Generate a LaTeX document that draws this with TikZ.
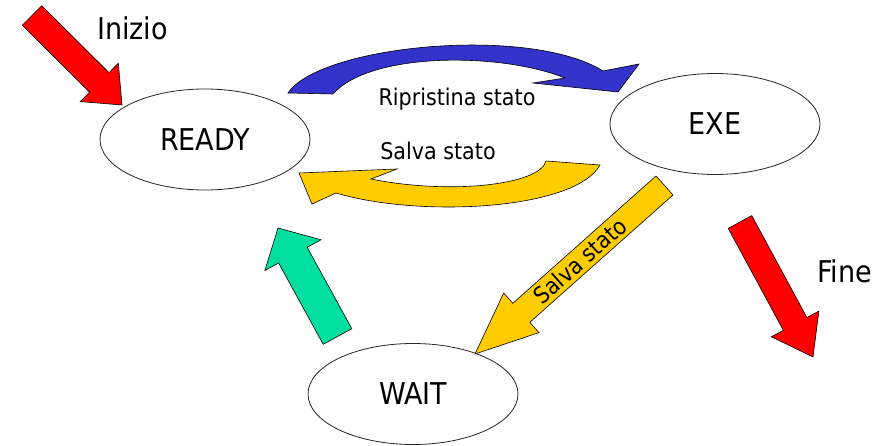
\documentclass[tikz,border=0pt]{standalone}
\usepackage{fontspec}
\setmainfont{DejaVu Sans Condensed}
\usetikzlibrary{shapes.geometric,calc}
\definecolor{ared}{RGB}{255,0,0}
\definecolor{ablue}{RGB}{51,51,204}
\definecolor{ayellow}{RGB}{255,204,0}
\definecolor{agreen}{RGB}{0,222,160}
% #1 style, #2 tail, #3 tip, #4 shaft half width, #5 head half width, #6 head length, #7 id
\newcommand\blockarrow[7]{%
  \coordinate (#7h) at ($(#3)!#6!(#2)$);
  \draw[#1] ($(#2)!#4!90:(#3)$) -- ($(#7h)!#4!90:(#3)$) -- ($(#7h)!#5!90:(#3)$) -- (#3)
    -- ($(#7h)!#5!-90:(#3)$) -- ($(#7h)!#4!-90:(#3)$) -- ($(#2)!#4!-90:(#3)$) -- cycle;
}
\begin{document}
\begin{tikzpicture}[x=1pt,y=-1pt,
  state/.style={ellipse,draw=black!85,line width=0.8pt,minimum width=210pt,minimum height=101pt,inner sep=0pt,font=\fontsize{30}{36}\selectfont},
  big/.style={font=\fontsize{30}{36}\selectfont,inner sep=0pt,anchor=base},
  small/.style={font=\fontsize{23}{28}\selectfont,inner sep=0pt,anchor=base},
  barrow/.style={draw=black,line width=0.6pt,line join=miter}]
\useasboundingbox (0,0) rectangle (895,446);

% states
\node[state] (ready) at (205,139.5) {READY};
\node[state] (exe) at (715,124) {EXE};
\node[state] (wait) at (413,394) {WAIT};

% labels
\node[big] (inizio) at (132.5,40) {Inizio};
\node[big] (fine) at (844.5,283) {Fine};
\node[small] (rip) at (457,106) {Ripristina stato};
\node[small] (salva) at (438,160) {Salva stato};

% straight block arrows
\coordinate (r1t) at (32,15.5);   \coordinate (r1p) at (122,105);
\coordinate (yt) at (664.5,185.5); \coordinate (yp) at (475,354);
\coordinate (gt) at (337.5,336.5); \coordinate (gp) at (278,228);
\coordinate (r2t) at (740,222);   \coordinate (r2p) at (813,357);
\blockarrow{barrow,fill=ared}{r1t}{r1p}{13.8pt}{27pt}{32pt}{ra}
\blockarrow{barrow,fill=ayellow}{yt}{yp}{12.75pt}{26.5pt}{62pt}{ya}
\blockarrow{barrow,fill=agreen}{gt}{gp}{16.3pt}{32pt}{31pt}{ga}
\blockarrow{barrow,fill=ared}{r2t}{r2p}{13.4pt}{27pt}{37.6pt}{rb}
\node[font=\fontsize{23}{28}\selectfont,inner sep=0pt,rotate=41.6] (salvadiag) at ($(yt)!0.446!(yp)$) {Salva stato};

% curved block arrows
\draw[barrow,fill=ablue] (288,93) .. controls (320,45) and (530,25) .. (603,71)
  -- (639,64) -- (618,92) -- (533,83) -- (565,78)
  .. controls (500,52) and (370,52) .. (333,94) -- cycle;
\draw[barrow,fill=ayellow] (600,165) .. controls (575,210) and (420,218) .. (336,193)
  -- (312,204) -- (299,173) -- (397,169) -- (371,179)
  .. controls (450,195) and (540,185) .. (546,161) -- cycle;
\end{tikzpicture}
\end{document}
